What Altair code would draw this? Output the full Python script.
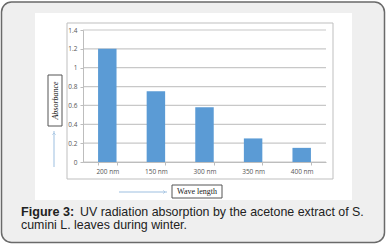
import altair as alt
import pandas as pd

wavelengths = ["200 nm", "150 nm", "300 nm", "350 nm", "400 nm"]
absorbance = [1.2, 0.75, 0.58, 0.25, 0.15]
y_ticks = [0, 0.2, 0.4, 0.6, 0.8, 1, 1.2, 1.4]
caption_bold = "Figure 3:"
caption_line1 = "UV radiation absorption by the acetone extract of S."
caption_line2 = "cumini L. leaves during winter."
y_title = "Absorbance"
x_title = "Wave length"

df = pd.DataFrame({"wl": wavelengths, "abs": absorbance})
dummy = pd.DataFrame({"d": [0]})

OX, OY = 83, 30
W, H = 243, 132


def px(v):
    return alt.value(v - OX)


def py(v):
    return alt.value(v - OY)


def box(x1, y1, x2, y2, **kw):
    return alt.Chart(dummy).mark_rect(**kw).encode(x=px(x1), x2=px(x2), y=py(y1), y2=py(y2))


def text(t, x, y, **kw):
    return alt.Chart(dummy).mark_text(text=t, **kw).encode(x=px(x), y=py(y))


def rule(x1, y1, x2, y2, **kw):
    return alt.Chart(dummy).mark_rule(**kw).encode(x=px(x1), x2=px(x2), y=py(y1), y2=py(y2))


def head(x, y, shape, **kw):
    return alt.Chart(dummy).mark_point(shape=shape, filled=False, **kw).encode(x=px(x), y=py(y))


y_axis = alt.Axis(values=y_ticks, format="~g", labelFont="Open Sans", labelFontSize=6.5,
                  labelColor="#555555", labelPadding=3, tickSize=3, tickColor="#bdbdbd",
                  labelOverlap=False, labelFlush=False,
                  domainColor="#bdbdbd", grid=False, zindex=2)
y_scale = alt.Scale(domain=[0, 1.4])

card = box(1.5, 2, 384.5, 242.5, fill="#efefef", stroke="#6a6a6a", strokeWidth=1.5, cornerRadius=10)
panel = box(35, 13, 352, 200, fill="#ffffff")
frame = box(67, 23, 333, 179, fill="#ffffff", stroke="#bfbfbf", strokeWidth=1)

grid = alt.Chart(pd.DataFrame({"t": y_ticks})).mark_rule(color="#c8c8c8", strokeWidth=1.2).encode(
    y=alt.Y("t:Q", scale=y_scale, axis=y_axis, title=None), x=alt.value(0), x2=alt.value(W)
)

bars = alt.Chart(df).mark_bar(color="#5b9bd5").encode(
    x=alt.X("wl:N", sort=wavelengths, title=None,
            scale=alt.Scale(paddingInner=0.62, paddingOuter=0.31),
            axis=alt.Axis(labelAngle=0, labelFont="Open Sans", labelFontSize=6.5, labelColor="#555555",
                          labelPadding=3, tickBand="extent", tickSize=3, tickColor="#bdbdbd",
                          domainColor="#bdbdbd", grid=False, zindex=2)),
    y=alt.Y("abs:Q", title=None, scale=y_scale, axis=y_axis),
)

ybox = box(48, 75, 62, 126, fill="#ffffff", stroke="#555555", strokeWidth=1)
ytxt = text(y_title, 55.5, 100.5, angle=270, font="Liberation Serif", fontStyle="italic",
            fontSize=8, color="#222222", baseline="middle", align="center")
uparrow = rule(54, 167, 54, 131, color="#9dbfe0", strokeWidth=1)
uphead = head(54, 133, "M-1,1L0,0L1,1", size=12, color="#9dbfe0", strokeWidth=1)

xbox = box(172, 185, 222, 198, fill="#ffffff", stroke="#555555", strokeWidth=1)
xtxt = text(x_title, 197, 191.8, font="Liberation Serif", fontSize=8, color="#222222",
            baseline="middle", align="center")
rarrow = rule(119, 192, 167, 192, color="#9dbfe0", strokeWidth=1)
rhead = head(165, 192, "M-1,-1L0,0L-1,1", size=12, color="#9dbfe0", strokeWidth=1)

cap_b = text(caption_bold, 21, 216.3, font="Liberation Sans", fontWeight="bold", fontSize=12.6,
             color="#222222", align="left", baseline="alphabetic")
cap_1 = text(caption_line1, 80, 216.3, font="Liberation Sans", fontSize=12.4,
             color="#222222", align="left", baseline="alphabetic")
cap_2 = text(caption_line2, 21, 228.5, font="Liberation Sans", fontSize=12.4,
             color="#222222", align="left", baseline="alphabetic")

chart = alt.layer(
    card, panel, frame, grid, bars, ybox, ytxt, uparrow, uphead, xbox, xtxt, rarrow, rhead,
    cap_b, cap_1, cap_2,
).properties(
    width=W, height=H,
    padding={"left": OX, "top": OY, "right": 386 - OX - W, "bottom": 245 - OY - H},
    autosize="none",
    background="#ffffff",
).configure_view(stroke=None)

chart.save("out.html", embed_options={"renderer": "svg", "actions": False})
